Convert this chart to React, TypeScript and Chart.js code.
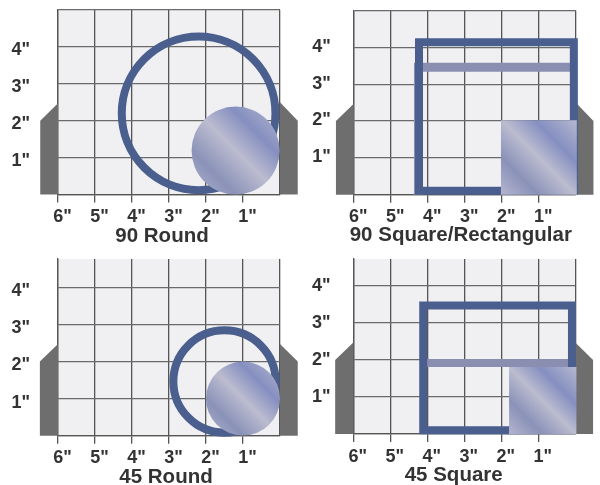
import React, { useEffect, useRef } from "react";
import { Chart, registerables } from "chart.js";

Chart.register(...registerables);

// All shape values are in inches.
const xInches = [6, 5, 4, 3, 2, 1];
const yInches = [4, 3, 2, 1];
const captions = ["90 Round", "90 Square/Rectangular", "45 Round", "45 Square"];

const leftBody90 = [{ x: 6, y: 2.47 }, { x: 6.48, y: 2 }, { x: 6.48, y: 0 }, { x: 6, y: 0 }];
const rightBody90 = [{ x: 0, y: 2.5 }, { x: -0.48, y: 2 }, { x: -0.48, y: 0 }, { x: 0, y: 0 }];
const leftBody45 = [{ x: 6, y: 2.47 }, { x: 6.49, y: 2.0 }, { x: 6.49, y: 0 }, { x: 6, y: 0 }];
const rightBody45 = [{ x: 0, y: 2.47 }, { x: -0.48, y: 2.0 }, { x: -0.48, y: 0 }, { x: 0, y: 0 }];

const round90Ring = { x: 2.2, y: 2.2, diameter: 4.37 };
const round90Disc = { x: 1.2, y: 1.19, diameter: 2.38 };
const round45Ring = { x: 1.5, y: 1.46, diameter: 2.98 };
const round45Disc = { x: 1.0, y: 1.0, diameter: 2.0 };

const square90Back = [{ x: 0.2, y: 3.46 }, { x: 4.25, y: 3.46 }, { x: 4.25, y: 0.12 }];
const square90Frame = [
  { x: 4.235, y: 4.135 }, { x: 0.05, y: 4.135 }, { x: 0.05, y: 0.11 }, { x: 4.235, y: 0.11 }, { x: 4.235, y: 4.135 },
];
const square90Plate = [{ x: 2.02, y: 2.02 }, { x: -0.03, y: 2.02 }, { x: -0.03, y: 0 }, { x: 2.02, y: 0 }];

const square45Bar = [{ x: 3.98, y: 1.92 }, { x: 0.2, y: 1.92 }];
const square45Frame = [
  { x: 4.11, y: 3.47 }, { x: 0.09, y: 3.47 }, { x: 0.09, y: 0.1 }, { x: 4.11, y: 0.1 }, { x: 4.11, y: 3.47 },
];
const square45Plate = [{ x: 1.79, y: 1.81 }, { x: -0.03, y: 1.81 }, { x: -0.03, y: 0 }, { x: 1.79, y: 0 }];

const DUCT = "#4a5f8e";
const BACK = "#8a8fb2";
const BODY = "#6e6e6e";
const FACE = "#f0f0f3";
const INK = "#333333";
const FONT = '"Liberation Sans", Arial, sans-serif';

function brushed(ctx: CanvasRenderingContext2D, x0: number, y0: number, x1: number, y1: number) {
  const g = ctx.createLinearGradient(x0, y1, x1, y0);
  g.addColorStop(0, "#b5b5cf");
  g.addColorStop(0.25, "#8a92b8");
  g.addColorStop(0.5, "#bcbcd0");
  g.addColorStop(0.72, "#858fc0");
  g.addColorStop(1, "#b5b8d0");
  return g;
}

const shapePlugin = {
  id: "shapeFill",
  afterLayout(chart: any, _args: any, opts: any) {
    const t = chart.titleBlock;
    if (!t) return;
    const shift = opts.captionAt - (t.left + t.right) / 2;
    t.left += shift;
    t.right += shift;
  },
  beforeDraw(chart: any) {
    const { left, top, width, height } = chart.chartArea;
    chart.ctx.save();
    chart.ctx.fillStyle = FACE;
    chart.ctx.fillRect(left, top, width, height);
    chart.ctx.restore();
  },
  beforeDatasetDraw(chart: any, args: any) {
    const ds = chart.data.datasets[args.index];
    if (!ds.shapeFill) return;
    const pts = args.meta.data;
    const ctx = chart.ctx;
    ctx.save();
    const xs = pts.map((p: any) => p.x);
    const ys = pts.map((p: any) => p.y);
    ctx.fillStyle =
      ds.shapeFill === "brushed"
        ? brushed(ctx, Math.min(...xs), Math.min(...ys), Math.max(...xs), Math.max(...ys))
        : ds.shapeFill;
    ctx.beginPath();
    pts.forEach((p: any, i: number) => (i ? ctx.lineTo(p.x, p.y) : ctx.moveTo(p.x, p.y)));
    ctx.closePath();
    ctx.fill();
    ctx.restore();
  },
};

const polygon = (data: any[], shapeFill: string, order: number) => ({
  data, shapeFill, order, showLine: false, pointRadius: 0, clip: false as const,
});
const outline = (data: any[], color: string, width: number, order: number) => ({
  data, order, showLine: true, borderColor: color, borderWidth: width, pointRadius: 0,
  borderJoinStyle: "miter", borderCapStyle: "square", tension: 0, clip: false as const,
});
const pixelsPerInch = (c: any) => (c.chart.scales.x?.width || 222) / 6;
const ring = (r: any, order: number) => ({
  data: [{ x: r.x, y: r.y }], order, clip: false as const,
  pointRadius: (c: any) => (r.diameter / 2) * pixelsPerInch(c) - 4,
  pointBorderWidth: 8, pointBorderColor: DUCT, pointBackgroundColor: "rgba(0,0,0,0)",
});
const disc = (d: any, order: number) => ({
  data: [{ x: d.x, y: d.y }], order, clip: false as const, pointBorderWidth: 0,
  pointRadius: (c: any) => (d.diameter / 2) * pixelsPerInch(c),
  pointBackgroundColor: (c: any) => {
    const { x, y } = c.chart.scales;
    const px = x.getPixelForValue(d.x);
    const py = y.getPixelForValue(d.y);
    if (!Number.isFinite(px) || !Number.isFinite(py)) return BACK;
    const rad = (d.diameter / 2) * pixelsPerInch(c);
    return brushed(c.chart.ctx, px - rad, py - rad, px + rad, py + rad);
  },
});

const panels = [
  {
    left: 0, top: 0, height: 248, plotLeft: 58, plotTop: 10, plotBottom: 194.5, yMax: 5,
    captionAt: 162, yPad: 28, yOff: 3,
    datasets: [
      disc(round90Disc, 1), ring(round90Ring, 2),
      polygon(leftBody90, BODY, 9), polygon(rightBody90, BODY, 9),
    ],
  },
  {
    left: 300, top: 0, height: 247, plotLeft: 53.7, plotTop: 10.5, plotBottom: 194.7, yMax: 5,
    captionAt: 160.8, yPad: 23, yOff: -0.5,
    datasets: [
      polygon(square90Plate, "brushed", 1), outline(square90Frame, DUCT, 8, 2), outline(square90Back, BACK, 9, 3),
      polygon(leftBody90, BODY, 9), polygon(rightBody90, BODY, 9),
    ],
  },
  {
    left: 0, top: 250, height: 239, plotLeft: 58, plotTop: 9, plotBottom: 185.7, yMax: 4.76,
    captionAt: 166, yPad: 28, yOff: 4,
    datasets: [
      disc(round45Disc, 1), ring(round45Ring, 2),
      polygon(leftBody45, BODY, 9), polygon(rightBody45, BODY, 9),
    ],
  },
  {
    left: 300, top: 250, height: 237, plotLeft: 53.3, plotTop: 9, plotBottom: 184, yMax: 4.73,
    captionAt: 153.7, yPad: 22.7, yOff: 0,
    datasets: [
      polygon(square45Plate, "brushed", 1), outline(square45Frame, DUCT, 8, 2), outline(square45Bar, BACK, 8, 3),
      polygon(leftBody45, BODY, 9), polygon(rightBody45, BODY, 9),
    ],
  },
];

const PANEL_WIDTH = 300;
const PLOT_WIDTH = 222;

function Panel({ index }: { index: number }) {
  const ref = useRef<HTMLCanvasElement>(null);
  const p = panels[index];
  const plotRight = p.plotLeft + PLOT_WIDTH;
  useEffect(() => {
    const chart = new Chart(ref.current as HTMLCanvasElement, {
      type: "scatter",
      data: { datasets: p.datasets as any },
      plugins: [shapePlugin],
      options: {
        animation: false,
        responsive: false,
        events: [],
        layout: {
          autoPadding: false,
          padding: { left: 0, top: p.plotTop, right: PANEL_WIDTH - plotRight, bottom: 0 },
        },
        plugins: {
          legend: { display: false },
          tooltip: { enabled: false },
          shapeFill: { captionAt: p.captionAt },
          title: {
            display: true,
            text: captions[index],
            position: "bottom",
            color: INK,
            padding: 0,
            font: { family: FONT, size: 20.5, weight: "bold", lineHeight: "24px" },
          },
        },
        scales: {
          x: {
            type: "linear",
            reverse: true,
            min: 0,
            max: 6,
            afterFit: (s: any) => {
              s.height = p.height - 24 - p.plotBottom;
              s.paddingLeft = 0;
              s.paddingRight = 0;
            },
            border: { color: "#555555", width: 1.3 },
            grid: {
              color: "#555555",
              lineWidth: 1.3,
              tickLength: 8,
              tickColor: (c: any) => (xInches.includes(c.tick?.value) ? "#555555" : "rgba(0,0,0,0)"),
            },
            ticks: {
              stepSize: 1,
              includeBounds: false,
              maxRotation: 0,
              autoSkip: false,
              padding: 4,
              labelOffset: 4.5,
              color: INK,
              font: { family: FONT, size: 18, weight: "bold" },
              callback: (v: any) => (xInches.includes(v) ? `${v}"` : ""),
            },
          },
          y: {
            type: "linear",
            min: 0,
            max: p.yMax,
            afterFit: (s: any) => {
              s.width = p.plotLeft;
              s.paddingTop = 0;
              s.paddingBottom = 0;
            },
            border: { color: "#555555", width: 1.3 },
            grid: { color: "#6a6a6a", lineWidth: 1.3, drawTicks: false },
            ticks: {
              stepSize: 1,
              includeBounds: false,
              autoSkip: false,
              padding: p.yPad,
              labelOffset: p.yOff,
              color: INK,
              font: { family: FONT, size: 18, weight: "bold" },
              callback: (v: any) => (yInches.includes(v) ? `${v}"` : ""),
            },
          },
        },
      } as any,
    });
    return () => chart.destroy();
  }, []);
  return (
    <canvas
      ref={ref}
      width={PANEL_WIDTH}
      height={p.height}
      style={{ position: "absolute", left: p.left, top: p.top, width: PANEL_WIDTH, height: p.height }}
    />
  );
}

export default function App() {
  useEffect(() => {
    document.body.style.margin = "0";
  }, []);
  return (
    <div style={{ position: "relative", width: 600, height: 485, overflow: "hidden", background: "#ffffff" }}>
      {panels.map((_, i) => (
        <Panel key={i} index={i} />
      ))}
    </div>
  );
}
